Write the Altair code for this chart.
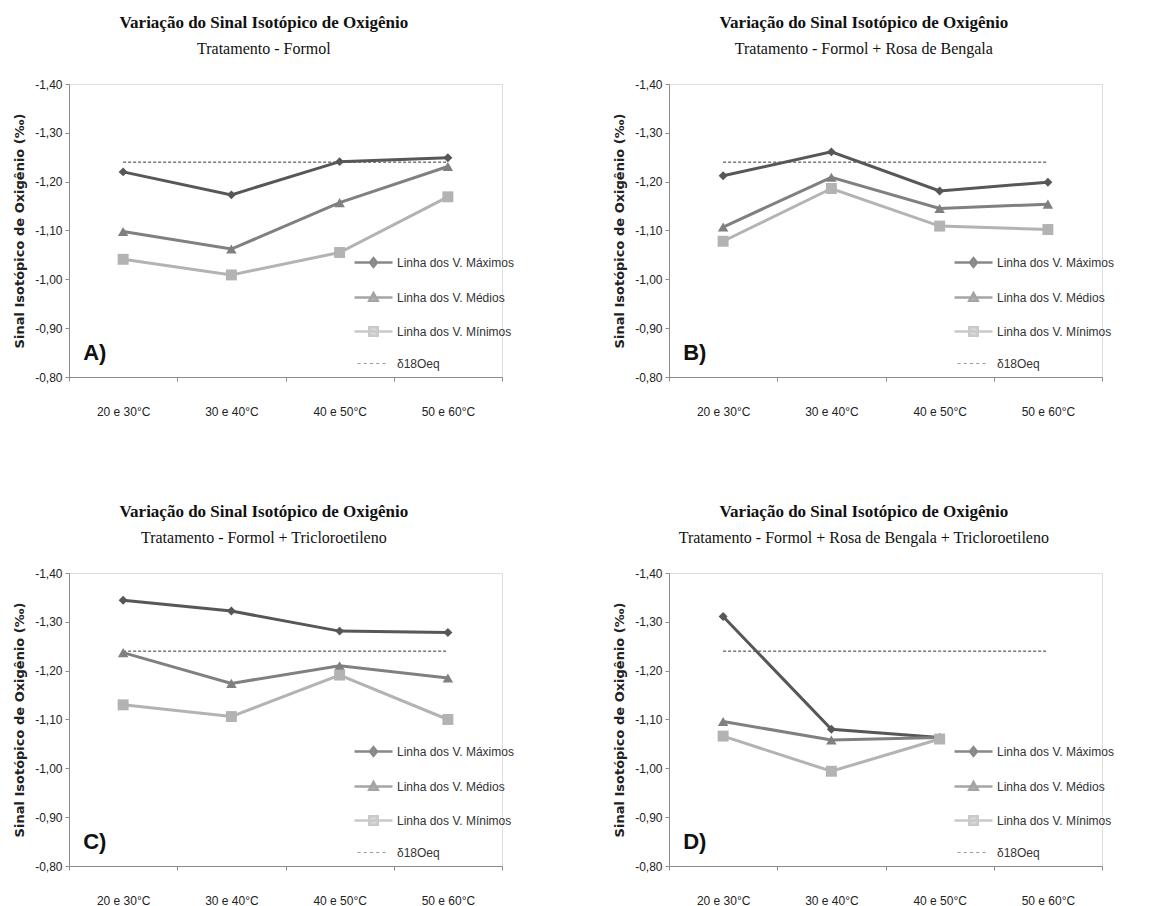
import altair as alt
import pandas as pd

categories = ["20 e 30°C", "30 e 40°C", "40 e 50°C", "50 e 60°C"]
series_names = ["Linha dos V. Máximos", "Linha dos V. Médios", "Linha dos V. Mínimos", "δ18Oeq"]

a_max = [-1.220, -1.173, -1.241, -1.249]
a_med = [-1.098, -1.062, -1.157, -1.231]
a_min = [-1.041, -1.009, -1.055, -1.169]

b_max = [-1.212, -1.261, -1.181, -1.199]
b_med = [-1.107, -1.209, -1.145, -1.154]
b_min = [-1.078, -1.186, -1.109, -1.102]

c_max = [-1.344, -1.322, -1.281, -1.278]
c_med = [-1.237, -1.174, -1.210, -1.185]
c_min = [-1.130, -1.106, -1.191, -1.100]

d_max = [-1.311, -1.080, -1.063, None]
d_med = [-1.096, -1.058, -1.063, None]
d_min = [-1.066, -0.994, -1.060, None]

ref_value = -1.24

main_title = "Variação do Sinal Isotópico de Oxigênio"
subtitles = [
    "Tratamento - Formol",
    "Tratamento - Formol + Rosa de Bengala",
    "Tratamento - Formol + Tricloroetileno",
    "Tratamento - Formol + Rosa de Bengala + Tricloroetileno",
]
letters = ["A)", "B)", "C)", "D)"]
y_ticks = [-1.40, -1.30, -1.20, -1.10, -1.00, -0.90, -0.80]

line_colors = ["#575757", "#808080", "#b3b3b3"]
marker_shapes = ["diamond", "triangle-up", "square"]
marker_sizes = [80, 110, 120]

legend_paths = [
    "M-3.8,0H3.8M0,-0.85L0.7,0L0,0.85L-0.7,0Z",
    "M-3.8,0H3.8M0,-0.9L0.85,0.65L-0.85,0.65Z",
    "M-3.8,0H3.8M-0.85,-0.85H0.85V0.85H-0.85Z",
    "M-3.2,-0.1h0.6v0.2h-0.6Z M-1.95,-0.1h0.6v0.2h-0.6Z M-0.7,-0.1h0.6v0.2h-0.6Z M0.55,-0.1h0.6v0.2h-0.6Z M1.8,-0.1h0.6v0.2h-0.6Z",
]
legend_stroke = line_colors + ["transparent"]
legend_fill = line_colors + ["#333333"]

LABEL_FONT = "Liberation Sans Narrow, Arial Narrow, Liberation Sans"
TITLE_FONT = "Liberation Serif"


def panel(vmax, vmed, vmin, subtitle, letter):
    rows = []
    for name, vals in zip(series_names[:3], [vmax, vmed, vmin]):
        for c, v in zip(categories, vals):
            if v is not None:
                rows.append({"cat": c, "value": v, "series": name})
    df = pd.DataFrame(rows)
    ref_df = pd.DataFrame({"cat": categories, "value": [ref_value] * len(categories)})
    letter_df = pd.DataFrame({"cat": [categories[0]], "value": [-0.85], "label": [letter]})
    legend_df = pd.DataFrame({"series": series_names})

    x = alt.X(
        "cat:N",
        sort=categories,
        scale=alt.Scale(domain=categories, type="band", paddingInner=0, paddingOuter=0),
        axis=alt.Axis(
            title=None, labelAngle=0, tickBand="extent", labelPadding=25,
            labelFont=LABEL_FONT, labelFontSize=12, labelColor="#222",
            domainColor="#8c8c8c", tickColor="#8c8c8c", tickSize=4,
        ),
    )
    y = alt.Y(
        "value:Q",
        scale=alt.Scale(domain=[-1.40, -0.80], reverse=True, nice=False, zero=False),
        axis=alt.Axis(
            title="Sinal Isotópico de Oxigênio  (‰)", values=y_ticks,
            labelExpr="'-' + replace(format(abs(datum.value), '.2f'), '.', ',')",
            labelFont=LABEL_FONT, labelFontSize=12, labelColor="#222", labelPadding=3,
            domainColor="#8c8c8c", tickColor="#8c8c8c", tickSize=4, grid=False,
            titleFont="DejaVu Sans", titleFontSize=13, titleFontWeight="bold",
            titleColor="#222", titlePadding=8,
        ),
    )
    color = alt.Color("series:N", scale=alt.Scale(domain=series_names[:3], range=line_colors), legend=None)

    ref_layer = alt.Chart(ref_df).mark_line(strokeDash=[3, 2], strokeWidth=1, color="#333").encode(x=x, y=y)
    line_layer = alt.Chart(df).mark_line(strokeWidth=3).encode(x=x, y=y, color=color)
    point_layers = []
    for name, shp, sz in zip(series_names[:3], marker_shapes, marker_sizes):
        point_layers.append(
            alt.Chart(df[df["series"] == name]).mark_point(
                shape=shp, filled=True, size=sz, opacity=1
            ).encode(x=x, y=y, color=color)
        )
    leg = alt.Legend(
        title=None, orient="none", legendX=298, legendY=172, direction="vertical",
        symbolSize=100, symbolStrokeWidth=2.5, labelOffset=17, rowPadding=16,
        labelFont=LABEL_FONT, labelFontSize=12, labelColor="#333", padding=0,
    )
    legend_layer = alt.Chart(legend_df).transform_filter("false").mark_point(filled=True).encode(
        shape=alt.Shape("series:N", scale=alt.Scale(domain=series_names, range=legend_paths), legend=leg),
        fill=alt.Fill("series:N", scale=alt.Scale(domain=series_names, range=legend_fill), legend=leg),
        stroke=alt.Stroke("series:N", scale=alt.Scale(domain=series_names, range=legend_stroke), legend=leg),
    )
    letter_layer = alt.Chart(letter_df).mark_text(
        align="left", baseline="middle", dx=-40, fontSize=22, fontWeight="bold",
        font="Liberation Sans", color="#111",
    ).encode(x=x, y=y, text="label:N")

    return alt.layer(ref_layer, line_layer, *point_layers, letter_layer, legend_layer).properties(
        width=433, height=293,
        title=alt.TitleParams(
            text=main_title, subtitle=subtitle, anchor="middle", frame="bounds",
            font=TITLE_FONT, fontSize=17, fontWeight="bold", color="#111",
            subtitleFont=TITLE_FONT, subtitleFontSize=16, subtitleColor="#111",
            subtitlePadding=9, offset=20,
        ),
    )


pa = panel(a_max, a_med, a_min, subtitles[0], letters[0])
pb = panel(b_max, b_med, b_min, subtitles[1], letters[1])
pc = panel(c_max, c_med, c_min, subtitles[2], letters[2])
pd_ = panel(d_max, d_med, d_min, subtitles[3], letters[3])

res = dict(color="independent", shape="independent", fill="independent", stroke="independent")
chart = alt.vconcat(
    alt.hconcat(pa, pb, spacing=98).resolve_scale(**res),
    alt.hconcat(pc, pd_, spacing=98).resolve_scale(**res),
    spacing=84,
).resolve_scale(**res).configure_view(
    stroke=None
).configure(background="white")

chart.save("out.html", embed_options={"renderer": "svg", "actions": False})
